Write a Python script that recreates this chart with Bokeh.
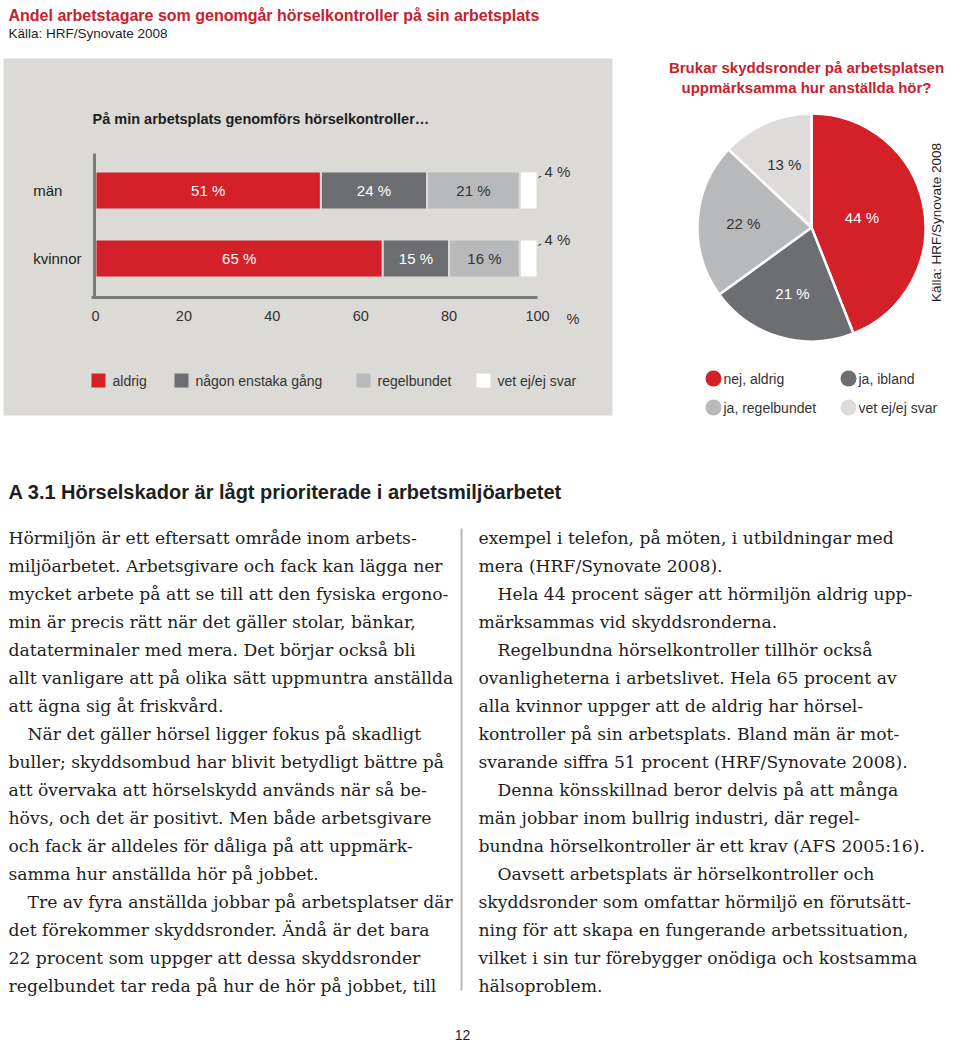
import math
from bokeh.plotting import figure
from bokeh.models import Range1d, LinearAxis, FixedTicker, ColumnDataSource
from bokeh.core.properties import value
from bokeh.embed import file_html
from bokeh.resources import INLINE

# ---------------- data ----------------
categories = ["män", "kvinnor"]
series = ["aldrig", "någon enstaka gång", "regelbundet", "vet ej/ej svar"]
men_values = [51, 24, 21, 4]
women_values = [65, 15, 16, 4]
tick_values = [0, 20, 40, 60, 80, 100]
tick_labels = ["0", "20", "40", "60", "80", "100"]

pie_labels = ["nej, aldrig", "ja, ibland", "ja, regelbundet", "vet ej/ej svar"]
pie_values = [44, 21, 22, 13]

title = "Andel arbetstagare som genomgår hörselkontroller på sin arbetsplats"
source_note = "Källa: HRF/Synovate 2008"
bar_title = "På min arbetsplats genomförs hörselkontroller…"
pie_title = ["Brukar skyddsronder på arbetsplatsen", "uppmärksamma hur anställda hör?"]
heading = "A 3.1 Hörselskador är lågt prioriterade i arbetsmiljöarbetet"

left_lines = [
    "Hörmiljön är ett eftersatt område inom arbets-",
    "miljöarbetet. Arbetsgivare och fack kan lägga ner",
    "mycket arbete på att se till att den fysiska ergono-",
    "min är precis rätt när det gäller stolar, bänkar,",
    "dataterminaler med mera. Det börjar också bli",
    "allt vanligare att på olika sätt uppmuntra anställda",
    "att ägna sig åt friskvård.",
    "När det gäller hörsel ligger fokus på skadligt",
    "buller; skyddsombud har blivit betydligt bättre på",
    "att övervaka att hörselskydd används när så be-",
    "hövs, och det är positivt. Men både arbetsgivare",
    "och fack är alldeles för dåliga på att uppmärk-",
    "samma hur anställda hör på jobbet.",
    "Tre av fyra anställda jobbar på arbetsplatser där",
    "det förekommer skyddsronder. Ändå är det bara",
    "22 procent som uppger att dessa skyddsronder",
    "regelbundet tar reda på hur de hör på jobbet, till",
]
left_indented = [7, 13]
right_lines = [
    "exempel i telefon, på möten, i utbildningar med",
    "mera (HRF/Synovate 2008).",
    "Hela 44 procent säger att hörmiljön aldrig upp-",
    "märksammas vid skyddsronderna.",
    "Regelbundna hörselkontroller tillhör också",
    "ovanligheterna i arbetslivet. Hela 65 procent av",
    "alla kvinnor uppger att de aldrig har hörsel-",
    "kontroller på sin arbetsplats. Bland män är mot-",
    "svarande siffra 51 procent (HRF/Synovate 2008).",
    "Denna könsskillnad beror delvis på att många",
    "män jobbar inom bullrig industri, där regel-",
    "bundna hörselkontroller är ett krav (AFS 2005:16).",
    "Oavsett arbetsplats är hörselkontroller och",
    "skyddsronder som omfattar hörmiljö en förutsätt-",
    "ning för att skapa en fungerande arbetssituation,",
    "vilket i sin tur förebygger onödiga och kostsamma",
    "hälsoproblem.",
]
right_indented = [2, 4, 9, 12]
page_number = "12"

# ---------------- styles / layout ----------------
W, H = 944, 1043
RED = "#d42029"
DARK = "#6d6e71"
MID = "#b7b9bb"
LIGHT = "#dddcda"
PANEL = "#dcdad6"
TITLE_RED = "#c8202c"
INK = "#1e1e1e"
SANS = "Liberation Sans"
SERIF = "DejaVu Serif"
bar_colors = [RED, DARK, MID, "#ffffff"]
bar_text_colors = ["white", "white", "#333333", None]
pie_colors = [RED, DARK, MID, LIGHT]
pie_text_colors = ["white", "white", "#333333", "#333333"]
pie_label_r = [0.45, 0.6, 0.6, 0.6]

PX0, PX_PER = 95.0, 4.42          # bar chart: 0 % at x=95, 4.42 px per %
CAT_Y0, CAT_STEP = 190.0, 68.0    # bar chart: first category centre, spacing
PIE_CX, PIE_CY, PIE_R = 811.0, 227.0, 114.0


def Y(py):
    return H - py


p = figure(width=W, height=H, x_range=Range1d(0, W), y_range=Range1d(0, H),
           x_axis_type=None, y_axis_type=None, toolbar_location=None,
           output_backend="svg", min_border=0, outline_line_color=None,
           background_fill_color="white", border_fill_color="white")

p.extra_x_ranges = {"pct": Range1d(start=-PX0 / PX_PER, end=(W - PX0) / PX_PER)}
p.extra_y_ranges = {"cat": Range1d(start=(H - CAT_Y0) / CAT_STEP, end=-CAT_Y0 / CAT_STEP)}


def txt(x, y, s, size, color=INK, font=SANS, bold=False, align="left",
        baseline="middle", angle=0.0, xr="default", yr="default"):
    p.text(x=[x], y=[y], text=[s], text_font=value(font),
           text_font_size=value(f"{size}px"), text_color=color,
           text_font_style="bold" if bold else "normal", text_align=align,
           text_baseline=baseline, angle=angle,
           x_range_name=xr, y_range_name=yr)


# grey panel
p.quad(left=3, right=612, bottom=Y(415), top=Y(58), fill_color=PANEL, line_color=None)

# titles
txt(8, Y(15), title, 16, TITLE_RED, bold=True)
txt(8, Y(33), source_note, 13.5, INK)
txt(92, Y(118), bar_title, 14.5, INK, bold=True)

# ---------------- stacked bars ----------------
rows = {"y": [], "left": [], "right": [], "color": []}
labs = {"x": [], "y": [], "text": [], "color": []}
for i, vals in enumerate([men_values, women_values]):
    cum = 0
    for j, v in enumerate(vals):
        rows["y"].append(i)
        rows["left"].append(cum)
        rows["right"].append(cum + v)
        rows["color"].append(bar_colors[j])
        if bar_text_colors[j] is not None:
            labs["x"].append(cum + v / 2)
            labs["y"].append(i)
            labs["text"].append(f"{v} %")
            labs["color"].append(bar_text_colors[j])
        cum += v
    # small value outside the bar with leader line
    p.segment(x0=[cum - 2.2], y0=[i - 0.12], x1=[cum + 0.8], y1=[i - 0.21],
              line_color="#333333", line_width=1.2, x_range_name="pct", y_range_name="cat")
    txt(cum + 1.6, i - 0.28, f"{vals[-1]} %", 15, "#333333", xr="pct", yr="cat")

p.hbar(y="y", left="left", right="right", height=0.56, fill_color="color",
       line_color=PANEL, line_width=2, source=ColumnDataSource(rows),
       x_range_name="pct", y_range_name="cat")
p.text(x="x", y="y", text="text", text_color="color", source=ColumnDataSource(labs),
       text_font=value(SANS), text_font_size=value("15px"), text_align="center",
       text_baseline="middle", x_range_name="pct", y_range_name="cat")

for i, c in enumerate(categories):
    txt(-14.1, i, c, 15, INK, xr="pct", yr="cat")

xaxis = LinearAxis(x_range_name="pct", fixed_location=Y(297), bounds=(-0.8, 100),
                   ticker=FixedTicker(ticks=tick_values),
                   major_label_overrides={v: l for v, l in zip(tick_values, tick_labels)},
                   axis_line_color="#7a7b7e", axis_line_width=3,
                   major_tick_line_color=None, minor_tick_line_color=None,
                   major_tick_in=0, major_tick_out=0, major_label_standoff=13,
                   major_label_text_font=SANS, major_label_text_font_size="14.5px",
                   major_label_text_color="#333333")
p.add_layout(xaxis, "below")
yaxis = LinearAxis(fixed_location=93.5, bounds=(Y(297), Y(153)),
                   ticker=FixedTicker(ticks=[]), axis_line_color="#7a7b7e",
                   axis_line_width=3, major_tick_line_color=None,
                   minor_tick_line_color=None, major_label_text_font_size="0px")
p.add_layout(yaxis, "left")
txt(566, Y(318), "%", 14.5, "#333333")

# bar legend
bar_leg_x = [91, 174, 356, 476]
p.rect(x=[x + 7 for x in bar_leg_x], y=[Y(380)] * 4, width=14, height=14,
       fill_color=bar_colors, line_color=None)
for x, s in zip(bar_leg_x, series):
    txt(x + 21, Y(380), s, 14, "#333333")

# ---------------- pie ----------------
for k, line in enumerate(pie_title):
    txt(806, Y(67 + 20 * k), line, 15, TITLE_RED, bold=True, align="center")

total = sum(pie_values)
starts, ends, cum = [], [], 0
for v in pie_values:
    starts.append(math.pi / 2 - 2 * math.pi * cum / total)
    cum += v
    ends.append(math.pi / 2 - 2 * math.pi * cum / total)
p.wedge(x=PIE_CX, y=Y(PIE_CY), radius=PIE_R, start_angle=starts, end_angle=ends,
        direction="clock", fill_color=pie_colors, line_color="white", line_width=2.5)
for k, v in enumerate(pie_values):
    mid = (starts[k] + ends[k]) / 2
    r = PIE_R * pie_label_r[k]
    txt(PIE_CX + r * math.cos(mid), Y(PIE_CY) + r * math.sin(mid), f"{v} %", 15,
        pie_text_colors[k], align="center")

txt(936, Y(222), source_note, 13.5, INK, align="center", angle=math.pi / 2)

pie_leg = [(713, 378), (848, 378), (713, 407), (848, 407)]
p.scatter(x=[a for a, b in pie_leg], y=[Y(b) for a, b in pie_leg], size=16,
          marker="circle", fill_color=pie_colors, line_color=None)
for (a, b), s in zip(pie_leg, pie_labels):
    txt(a + 10, Y(b), s, 14, "#333333")

# ---------------- article text ----------------
txt(8, Y(491), heading, 20, INK, bold=True)
LINE0, LEAD, INDENT = 537, 28.0, 19


def column(lines, indented, x0):
    xs, ys = [], []
    for n, line in enumerate(lines):
        xs.append(x0 + (INDENT if n in indented else 0))
        ys.append(Y(LINE0 + LEAD * n))
    p.text(x=xs, y=ys, text=lines, text_font=value(SERIF), text_font_size=value("17.2px"),
           text_color=INK, text_baseline="middle", text_align="left")


column(left_lines, left_indented, 8)
column(right_lines, right_indented, 478)
p.segment(x0=[461], y0=[Y(528)], x1=[461], y1=[Y(990)], line_color="#b8b8b8", line_width=2)
txt(462, Y(1034), page_number, 14, INK, align="center")

open("out.html", "w").write(file_html(p, INLINE))
